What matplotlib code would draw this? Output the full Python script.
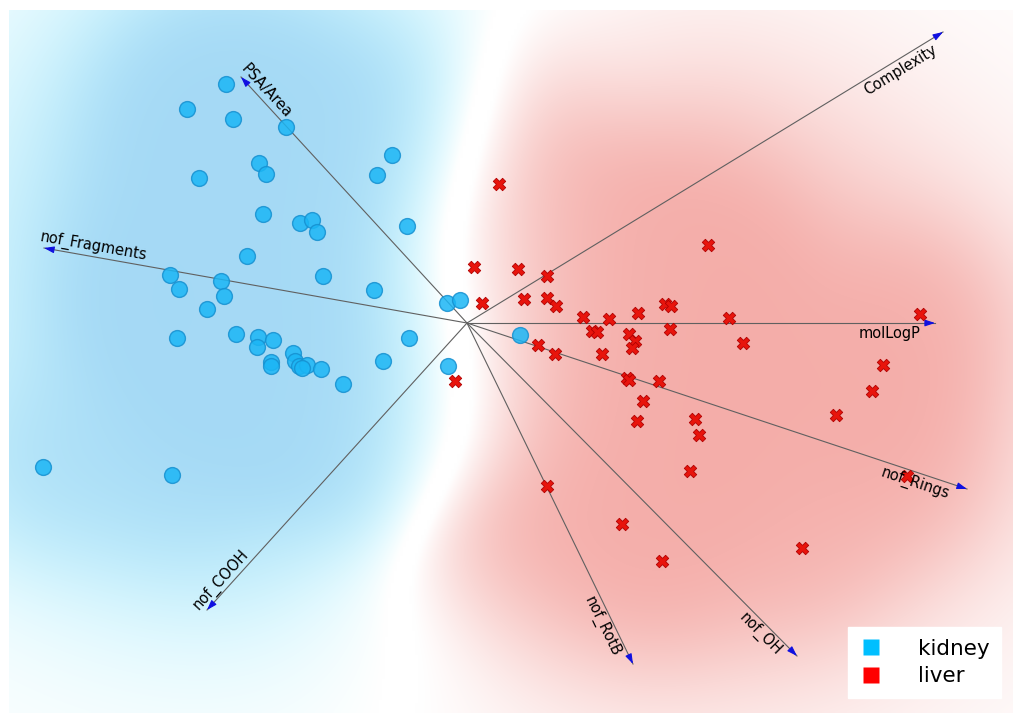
import numpy as np
import matplotlib.pyplot as plt
from matplotlib.lines import Line2D

# projected positions (same units as the canvas, y pointing down)
kidney_x = [226, 187, 233, 286, 392, 259, 266, 377, 199, 263, 300, 312, 317, 407, 247,
            323, 374, 170, 179, 221, 224, 207, 447, 460, 177, 236, 258, 257, 273, 409,
            293, 295, 299, 307, 302, 271, 271, 321, 343, 383, 448, 43, 172, 520]
kidney_y = [84, 109, 119, 127, 155, 163, 174, 175, 178, 214, 223, 220, 232, 226, 256,
            276, 290, 275, 289, 281, 296, 309, 303, 300, 338, 334, 337, 347, 340, 338,
            353, 361, 366, 365, 368, 362, 366, 369, 384, 361, 366, 467, 475, 335]

liver_x = [499, 708, 474, 518, 547, 482, 524, 547, 556, 583, 609, 638, 665, 671, 729,
           920, 592, 597, 629, 635, 632, 670, 743, 538, 555, 602, 883, 455, 627, 629,
           659, 643, 637, 695, 699, 690, 872, 836, 907, 547, 622, 662, 802]
liver_y = [184, 245, 267, 269, 276, 303, 299, 298, 306, 317, 319, 313, 304, 306, 318,
           314, 331, 332, 334, 341, 348, 329, 343, 345, 354, 354, 365, 381, 378, 380,
           381, 401, 421, 419, 435, 471, 391, 415, 476, 486, 524, 561, 548]

anchor_names = ['PSA/Area', 'nof_Fragments', 'Complexity', 'molLogP',
                'nof_Rings', 'nof_OH', 'nof_RotB', 'nof_COOH']
anchor_x = [241, 44, 943, 935, 967, 797, 633, 207]
anchor_y = [77, 248, 32, 323, 489, 656, 664, 610]
origin_x, origin_y = 467, 323

class_names = ['kidney', 'liver']
class_colors = ['#00bfff', '#ff0000']

fig = plt.figure(figsize=(10.22, 7.19), dpi=100, facecolor='white')
x0, x1, y_bot, y_top = 9, 1013, 713, 10
ax = fig.add_axes([x0 / 1022, (719 - y_bot) / 719, (x1 - x0) / 1022, (y_bot - y_top) / 719])
ax.set_xlim(x0, x1)
ax.set_ylim(y_bot, y_top)
ax.axis('off')

# ---- class density background ----
step = 3
gx = np.arange(x0, x1, step) + step / 2
gy = np.arange(y_top, y_bot, step) + step / 2
GX, GY = np.meshgrid(gx, gy)


def kern(px, py, s):
    px = np.asarray(px, float)
    py = np.asarray(py, float)
    d2 = (GX[..., None] - px) ** 2 + (GY[..., None] - py) ** 2
    return np.exp(-d2 / (2 * s * s)).sum(-1)


kb, kr = kern(kidney_x, kidney_y, 65), kern(liver_x, liver_y, 65)
wb, wr = kern(kidney_x, kidney_y, 160), kern(liver_x, liver_y, 160)
p_b = (kb + 0.01 * wb) / (kb + kr + 0.01 * (wb + wr) + 1e-12)
conf = np.clip((np.abs(2 * p_b - 1) - 0.12) / 0.88, 0, 1)
strength = 1 - np.exp(-((kb + kr) / 1.2 + (wb + wr) / 12))
amax = 0.42
alpha = amax * conf * strength

# light tint is cyan-ish, dense areas a deeper sky blue
f = (alpha / amax)[..., None]
blue_lo = np.array([0, 215, 255]) / 255
blue_hi = np.array([40, 165, 232]) / 255
bg_blue = (1 - f) * blue_lo + f * blue_hi
bg_red = np.array([230, 60, 50]) / 255
base = np.where((p_b > 0.5)[..., None], bg_blue, bg_red)
img = 1 - alpha[..., None] * (1 - base)
ax.imshow(img, extent=(x0, x1, y_bot, y_top), origin='upper',
          interpolation='bilinear', aspect='auto', zorder=0)

# ---- anchors ----
for name, tx, ty in zip(anchor_names, anchor_x, anchor_y):
    dx, dy = tx - origin_x, ty - origin_y
    L = np.hypot(dx, dy)
    ux, uy = dx / L, dy / L
    ax.plot([origin_x, tx], [origin_y, ty], color='#606060', lw=0.8, zorder=2)
    ax.annotate('', xy=(tx, ty), xytext=(tx - 9 * ux, ty - 9 * uy),
                arrowprops=dict(arrowstyle='-|>,head_length=0.6,head_width=0.2',
                                color='#1010e0', lw=0.8, shrinkA=0, shrinkB=0),
                zorder=3)
    if tx < origin_x:
        rot = np.degrees(np.arctan2(dy, -dx))
        t = np.radians(rot)
        px, py = tx + 6 * ux - 2 * np.sin(t), ty + 6 * uy - 2 * np.cos(t)
        ax.text(px, py, name, rotation=rot, rotation_mode='anchor',
                ha='left', va='bottom', fontsize=10.5, zorder=5)
    else:
        rot = np.degrees(np.arctan2(-dy, dx))
        t = np.radians(rot)
        px, py = tx - 15 * ux + 3 * np.sin(t), ty - 15 * uy + 3 * np.cos(t)
        ax.text(px, py, name, rotation=rot, rotation_mode='anchor',
                ha='right', va='top', fontsize=10.5, zorder=5)

# ---- points ----
ax.scatter(kidney_x, kidney_y, s=130, marker='o', facecolor='#1bb6f5',
           edgecolor='#1690d0', linewidth=1, alpha=0.85, zorder=4)
ax.scatter(liver_x, liver_y, s=80, marker='X', facecolor='#e8140c',
           edgecolor='#b00000', linewidth=0.6, zorder=4)

handles = [Line2D([], [], marker='s', ls='', markersize=11, markerfacecolor=c,
                  markeredgecolor='none') for c in class_colors]
ax.legend(handles, class_names, loc='lower left', bbox_to_anchor=(848, 698),
          bbox_transform=ax.transData, fontsize=15.5, handlelength=1.0,
          handletextpad=1.7, borderpad=0.55, labelspacing=0.35,
          fancybox=False, framealpha=1, edgecolor='white', borderaxespad=0)

fig.savefig('out.png', dpi=100, facecolor='white')
